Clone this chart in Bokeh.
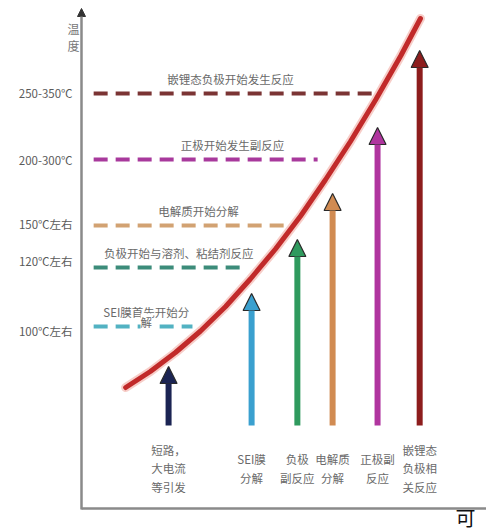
from bokeh.plotting import figure
from bokeh.models import Range1d, Arrow, NormalHead
from bokeh.core.properties import value
from bokeh.embed import file_html
from bokeh.resources import INLINE

FONT = value("Noto Sans CJK SC")

# ---- temperature thresholds (schematic level, 0-100) ----
level_names = ["250-350℃", "200-300℃", "150℃左右", "120℃左右", "100℃左右"]
level_y = [83.0, 69.8, 56.6, 48.2, 36.4]
tick_label_y = [83.2, 69.8, 57.0, 49.6, 35.6]
level_start_x = [3.0, 3.0, 3.0, 3.0, 3.0]
level_end_x = [73.3, 58.3, 52.3, 40.5, 27.4]
level_labels = ["嵌锂态负极开始发生反应", "正极开始发生副反应", "电解质开始分解",
                "负极开始与溶剂、粘结剂反应", "SEI膜首先开始分"]
level_label_x = [36.8, 37.3, 28.9, 24.0, 16.0]
wrap_char = "解"
level_colors = ["#7b3434", "#a8399c", "#d2a272", "#3c8c7a", "#52b2c2"]

# ---- heat curve (schematic progress vs temperature level) ----
curve_x = [10.9, 17.0, 23.2, 29.4, 35.6, 41.7, 47.9, 54.1, 60.2, 66.4, 72.6, 78.8, 83.7]
curve_y = [24.2, 27.4, 31.2, 35.5, 40.4, 45.9, 51.9, 58.5, 65.7, 73.4, 81.7, 90.5, 98.0]

# ---- reaction stages (arrows) ----
stage_x = [21.5, 42.0, 53.3, 62.0, 73.1, 83.5]
stage_tip = [28.4, 43.0, 53.8, 63.0, 76.2, 91.6]
stage_base = [16.6, 16.6, 16.6, 16.6, 16.6, 16.6]
stage_labels = ["短路，\n大电流\n等引发", "SEI膜\n分解", "负极\n副反应",
                "电解质\n分解", "正极副\n反应", "嵌锂态\n负极相\n关反应"]
stage_colors = ["#1b2453", "#3aa0cf", "#2f9a5e", "#d18b52", "#b0359f", "#8d1d1d"]

axis_title = "温\n度"
corner_char = "可"

p = figure(width=486, height=531, output_backend="svg", toolbar_location=None,
           x_range=Range1d(-20.0, 100), y_range=Range1d(-4.6, 101.6),
           x_axis_location=None, y_axis_location=None, min_border=0)
p.grid.visible = False
p.outline_line_color = None
p.background_fill_color = "white"

# axes
p.segment(x0=[0], y0=[0], x1=[100], y1=[0], line_color="#8a8a8a", line_width=2.5)
p.add_layout(Arrow(x_start=0, y_start=-0.2, x_end=0, y_end=100,
                   line_color="#8a8a8a", line_width=2.5,
                   end=NormalHead(size=8, fill_color="#333333", line_color="#333333")))
p.text(x=[-2.0], y=[94.3], text=[axis_title], text_font=FONT, text_font_size="12px",
       text_color="#777777", text_align="center", text_baseline="middle",
       text_line_height=1.0)

# threshold dashed lines
p.segment(x0=level_start_x, y0=level_y, x1=level_end_x, y1=level_y,
          line_color=level_colors, line_width=4, line_dash="14 8")
p.text(x=level_label_x, y=[v + 3.0 for v in level_y], text=level_labels, text_font=FONT,
       text_font_size="11.5px", text_color="#6a6a6a", text_align="center",
       text_baseline="middle")
p.text(x=[level_label_x[-1]], y=[level_y[-1] + 1.0], text=[wrap_char], text_font=FONT,
       text_font_size="11.5px", text_color="#6a6a6a", text_align="center",
       text_baseline="middle", background_fill_color="white")
p.text(x=[-2.2] * len(level_names), y=tick_label_y, text=level_names, text_font=FONT,
       text_font_size="11.5px", text_color="#5a5a5a", text_align="right",
       text_baseline="middle")

# arrows
for xs, yb, yt, c in zip(stage_x, stage_base, stage_tip, stage_colors):
    p.add_layout(Arrow(x_start=xs, y_start=yb, x_end=xs, y_end=yt,
                       line_color=c, line_width=6,
                       end=NormalHead(size=17, fill_color=c, line_color="#2a2a2a",
                                      line_width=1.2)))
p.text(x=stage_x, y=[8.0] * len(stage_x), text=stage_labels, text_font=FONT,
       text_font_size="11.5px", text_color="#6a6a6a", text_align="center",
       text_baseline="middle", text_line_height=1.15)

# curve
p.line(curve_x, curve_y, line_color="#f3b8b0", line_width=9, line_alpha=0.7, line_cap="round")
p.line(curve_x, curve_y, line_color="#c12a2a", line_width=5, line_cap="round")

p.text(x=[94.8], y=[-1.8], text=[corner_char], text_font=FONT, text_font_size="20px",
       text_color="#111111", text_align="center", text_baseline="middle")

open("out.html", "w").write(file_html(p, INLINE))
